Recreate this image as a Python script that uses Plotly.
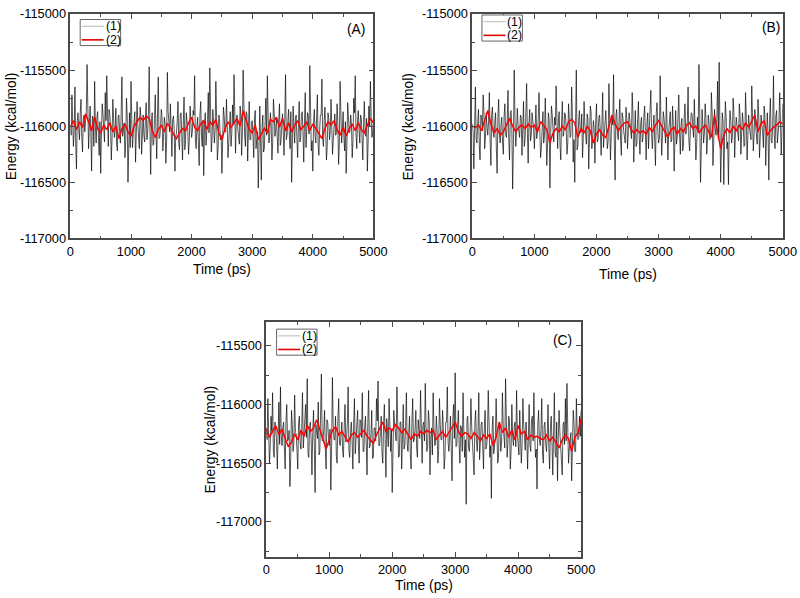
import plotly.graph_objects as go

# ---------------- data ----------------
time_raw = list(range(0, 5001, 25))             # gray series, main samples (ps)
time_mid = [t + 12.5 for t in time_raw[:-1]]     # gray series, in-between samples (ps)
time_avg = list(range(0, 5001, 50))             # red series samples (ps)

energy_raw_A = [
    -116000, -115720, -116180, -115650, -116380, -115880, -116120, -115760, -116230, -115900,
    -115980, -115450, -116200, -115820, -116400, -115930, -115600, -116150, -115870, -116260,
    -116420, -115800, -116050, -115700, -115550, -116180, -115890, -116300, -115760, -116100,
    -115840, -116220, -115900, -116150, -115560, -116050, -116280, -115750, -116500, -115880,
    -115600, -116190, -115940, -116320, -115780, -116080, -115830, -116250, -115900, -116140,
    -115790, -116050, -115470, -116430, -115880, -116160, -115720, -116290, -115560, -116100,
    -115850, -116220, -115920, -116330, -115520, -116050, -115800, -116270, -115910, -116400,
    -116060, -115780, -116210, -115880, -116300, -115740, -116130, -115950, -116250, -115820,
    -116100, -115860, -115550, -116200, -115920, -116350, -115780, -116180, -116440, -115880,
    -116070, -115700, -115480, -116230, -115850, -116150, -115600, -116300, -115900, -116120,
    -116420, -115830, -116050, -115760, -116280, -115920, -116180, -115810, -115540, -116240,
    -115900, -116150, -115820, -116260, -115500, -116080, -115870, -116310, -115780, -116120,
    -115950, -116280, -115860, -116050, -116550, -115820, -116480, -115900, -116200, -115750,
    -115550, -116150, -115880, -116300, -115760, -116090, -115930, -116240, -115800, -116130,
    -115890, -116260, -115540, -116080, -115850, -116200, -116500, -115820, -116150, -115900,
    -116280, -115780, -116100, -115870, -116320, -115700, -116050, -115910, -115460, -116220,
    -116400, -115850, -116150, -115720, -116260, -115900, -115580, -116180, -115830, -116300,
    -115880, -116120, -115760, -116250, -115920, -116080, -115800, -116340, -115600, -116150,
    -115870, -116220, -116420, -115790, -116060, -115900, -116280, -115750, -115550, -116200,
    -115860, -116150, -115930, -116300, -115780, -116090, -116400, -115820, -115600, -116100,
    -115950,
]
energy_mid_A = [
    -116080, -115900, -116030, -116150, -115960, -116020, -115880, -116090, -115940, -116050,
    -115870, -116120, -115990, -116060, -115910, -116180, -116000, -115920, -116100, -115960,
    -116030, -115890, -116140, -115950, -116070, -115850, -116010, -116110, -115930, -116040,
    -116160, -115920, -116050, -115880, -116090, -115970, -116130, -115900, -116020, -116190,
    -115940, -116060, -115870, -116100, -115990, -116200, -115910, -116030, -116080, -115950,
    -116120, -115880, -116040, -115960, -116170, -115930, -116060, -115890, -116110, -116000,
    -115920, -116090, -115980, -116140, -115870, -116050, -116180, -115940, -116030, -116100,
    -115960, -116150, -115900, -116070, -115990, -116210, -115880, -116040, -116120, -115930,
    -116050, -115900, -116130, -116000, -116160, -115890, -116080, -115950, -116020, -116170,
    -115940, -116060, -115870, -116110, -115980, -116040, -115920, -116190, -115960, -116080,
    -116130, -115910, -116050, -115980, -116150, -115870, -116070, -115990, -116100, -115940,
    -116020, -116160, -115900, -116060, -115950, -116180, -115890, -116040, -116120, -115970,
    -116090, -115930, -116200, -116050, -115920, -116140, -116010, -116230, -115960, -116080,
    -115900, -116100, -115970, -116150, -115880, -116030, -116090, -115940, -116170, -115990,
    -116050, -115910, -116120, -115960, -116080, -115870, -116160, -116000, -115930, -116110,
    -115980, -116140, -115900, -116050, -115960, -116190, -115880, -116070, -116010, -116130,
    -115950, -116090, -115920, -116170, -116040, -115900, -116110, -115960, -116060, -116180,
    -115930, -116050, -115990, -116130, -115890, -116070, -115970, -116160, -115940, -116020,
    -116100, -115960, -116150, -115910, -116040, -115990, -116120, -115880, -116070, -115950,
    -116030, -115900, -116110, -115970, -116060, -115930, -116140, -116000, -115920, -116050,
]
energy_avg_A = [
    -116000, -115950, -116030, -115960, -116010, -115890, -115960, -116040, -115920, -116020,
    -116060, -115990, -116030, -115970, -116050, -116000, -116110, -116020, -115980, -116050,
    -116090, -116000, -115960, -115920, -115950, -115910, -115930, -116040, -116100, -116030,
    -115990, -116050, -115980, -116010, -116070, -116110, -116060, -116020, -116040, -115970,
    -115920, -116010, -116040, -115980, -115950, -116030, -115960, -115990, -115940, -116060,
    -116120, -116020, -115960, -116010, -115970, -115930, -116000, -115860, -115950, -116030,
    -116060, -115990, -116120, -116070, -116020, -116060, -115940, -115960, -115920, -116010,
    -115930, -116040, -115970, -116050, -115990, -115950, -116030, -116000, -115960, -116040,
    -115980, -116020, -116060, -116110, -116020, -115960, -115990, -115950, -116030, -116080,
    -116010, -116090, -116020, -115980, -116040, -115970, -116030, -116060, -115990, -115930,
    -115970,
]

energy_raw_B = [
    -115980, -116380, -115650, -116150, -115850, -116300, -115920, -115720, -116200, -115880,
    -116080, -115700, -116350, -115830, -116100, -115880, -116420, -115760, -116150, -115920,
    -116250, -115800, -116100, -115680, -116300, -115860, -116560, -115500, -116180, -115840,
    -116050, -115900, -116260, -115780, -116120, -115620, -116330, -115850, -116080, -115930,
    -116200, -115810, -116050, -115700, -116280, -115900, -116150, -115750, -116350, -115880,
    -116550, -115820, -116120, -115920, -115640, -116200, -115870, -116300, -115780, -116060,
    -115900, -116250, -115800, -116100, -115650, -116320, -116500, -115500, -116180, -115860,
    -116050, -116280, -115780, -116150, -115890, -116380, -115820, -116200, -115950, -116330,
    -115800, -116120, -115900, -116260, -115700, -116080, -115860, -116200, -115620, -116300,
    -115900, -115540, -116480, -115850, -116120, -115760, -116260, -115920, -116080, -115830,
    -116200, -115880, -116050, -115700, -116320, -115860, -116150, -115780, -116250, -115920,
    -116100, -115820, -116300, -115880, -116050, -115680, -116200, -115900, -116350, -115790,
    -116150, -115550, -116260, -115870, -116080, -115740, -116300, -115900, -116140, -115820,
    -116400, -115860, -116100, -115720, -116250, -115930, -116180, -115800, -116050, -115650,
    -116220, -115880, -116080, -115760, -116300, -115920, -115450, -116500, -115850, -116150,
    -115800, -116250, -115900, -116120, -115700, -116350, -115850, -116080, -115600, -115430,
    -116500, -115880, -116520, -115780, -116200, -116520, -115860, -116150, -115750, -116280,
    -115920, -116100, -115800, -116250, -115880, -116180, -115700, -116300, -115900, -116050,
    -115640, -116220, -115850, -116120, -115760, -116280, -115900, -116050, -115820, -116350,
    -115880, -116480, -115750, -116150, -115550, -116200, -115860, -116080, -115700, -116250,
    -115800,
]
energy_mid_B = [
    -116050, -115930, -116110, -115980, -116160, -115900, -116040, -115870, -116090, -116010,
    -115950, -116130, -115890, -116060, -115970, -116200, -115920, -116080, -115990, -116140,
    -115910, -116070, -115960, -116120, -115880, -116030, -116170, -115940, -116050, -115990,
    -116100, -115920, -116040, -116180, -115900, -116060, -115970, -116130, -115880, -116020,
    -115960, -116110, -115930, -116050, -116190, -115870, -116080, -116000, -116150, -115940,
    -116070, -115900, -116140, -115990, -116050, -115920, -116170, -115960, -116090, -115880,
    -116030, -116150, -115940, -116080, -115910, -116120, -116000, -116210, -115950, -116060,
    -115890, -116100, -115980, -116160, -115930, -116040, -115870, -116110, -116020, -115960,
    -116140, -115920, -116060, -115970, -116190, -115900, -116050, -116130, -115940, -116080,
    -115990, -116170, -115910, -116070, -115960, -116120, -115880, -116040, -116150, -115930,
    -116060, -115950, -116110, -115890, -116030, -116180, -115940, -116090, -115970, -116140,
    -115920, -116050, -115980, -116200, -115900, -116070, -116010, -116130, -115880, -116040,
    -116110, -115960, -116080, -115930, -116150, -115990, -116050, -115870, -116120, -116000,
    -115940, -116160, -115910, -116060, -115980, -116220, -115920, -116070, -115960, -116130,
    -116020, -115890, -116100, -115950, -116170, -116040, -115900, -116210, -115980, -116060,
    -115930, -116120, -115970, -116080, -115890, -116150, -116020, -115940, -116110, -116000,
    -116180, -115960, -116090, -115920, -116140, -116030, -115950, -116100, -115880, -116060,
    -115990, -116130, -115910, -116050, -115970, -116170, -115930, -116080, -116010, -116120,
    -115950, -116070, -116000, -116160, -115900, -116040, -115980, -116190, -115920, -116090,
    -116060, -115940, -116130, -115990, -116080, -115910, -116150, -115970, -116040, -116020,
]
energy_avg_B = [
    -116000, -116010, -115990, -116040, -115950, -115860, -115980, -116060, -116020, -116080,
    -116050, -115990, -115930, -116000, -116050, -116010, -115990, -116020, -115980, -116010,
    -115990, -116050, -115960, -115990, -116030, -116150, -116060, -116020, -116050, -116000,
    -116030, -115960, -115940, -115970, -116100, -116020, -116060, -116000, -116040, -116150,
    -116070, -116030, -116080, -116100, -116000, -115900, -115980, -116040, -116000, -115970,
    -115960, -116020, -116060, -116030, -116060, -116040, -116070, -116010, -116050, -115990,
    -115950, -116000, -116040, -116100, -116030, -116010, -116070, -116020, -116050, -115990,
    -115970, -116020, -116000, -116060, -116020, -115990, -116040, -116100, -115900, -116050,
    -116200, -116080, -116020, -116060, -116000, -116040, -115990, -116030, -115970, -116010,
    -115950, -115900, -116050, -115980, -115950, -116080, -116040, -116010, -115990, -115960,
    -115980,
]

energy_raw_C = [
    -116200, -115950, -116500, -116100, -115900, -116450, -116200, -116550, -115980, -115850,
    -116350, -116150, -116550, -116000, -116300, -116700, -116050, -116400, -115920, -116250,
    -116550, -116100, -116380, -115900, -116250, -116000, -115780, -116450, -116150, -116600,
    -116050, -116750, -116250, -115980, -116400, -115740, -116300, -116050, -116550, -116150,
    -116350, -116730, -115770, -116300, -116100, -116500, -115950, -116350, -116150, -116450,
    -116000, -116300, -115850, -116450, -116150, -116550, -115950, -116280, -116050, -116500,
    -116150, -115900, -116400, -116100, -116600, -115880, -116350, -116050, -116450, -116200,
    -115950, -115800, -116350, -116100, -116500, -116000, -116620, -116250, -115950, -116400,
    -116750, -116050, -116300, -115850, -116450, -116150, -116550, -116000, -116350, -115900,
    -116400, -116100, -116550, -115950, -116300, -116050, -116450, -116200, -115880, -116500,
    -116150, -115820, -116400, -116050, -116600, -116200, -115900, -116350, -116100, -116500,
    -115950, -116300, -116050, -116550, -116150, -115850, -116400, -116100, -116650, -116000,
    -115730, -116350, -116050, -116500, -116200, -115900, -116450, -116850, -116100, -116400,
    -115950, -116300, -116600, -116050, -116400, -115900, -116300, -116150, -116550, -116050,
    -116350, -115880, -116450, -116800, -116100, -116300, -115950, -116500, -116150, -116400,
    -115900, -116250, -115780, -116450, -116100, -116550, -116000, -116350, -116150, -115880,
    -116400, -116050, -116500, -115950, -116300, -116150, -116550, -116000, -116400, -116100,
    -115900, -116450, -116720, -116050, -116350, -115950, -116500, -116150, -116400, -116000,
    -116550, -116100, -116600, -115900, -116450, -116650, -116050, -116400, -116600, -116150,
    -115950, -115820, -116500, -116250, -116650, -116050, -116400, -115950, -116300, -116100,
    -116050,
]
energy_mid_C = [
    -116300, -116180, -116360, -116230, -116400, -116150, -116290, -116120, -116340, -116260,
    -116200, -116380, -116140, -116310, -116220, -116450, -116170, -116330, -116240, -116390,
    -116160, -116320, -116210, -116370, -116130, -116280, -116420, -116190, -116300, -116240,
    -116350, -116170, -116290, -116430, -116150, -116310, -116220, -116380, -116130, -116270,
    -116210, -116360, -116180, -116300, -116440, -116120, -116330, -116250, -116400, -116190,
    -116320, -116150, -116390, -116240, -116300, -116170, -116420, -116210, -116340, -116130,
    -116280, -116400, -116190, -116330, -116160, -116370, -116250, -116460, -116200, -116310,
    -116140, -116350, -116230, -116410, -116180, -116290, -116120, -116360, -116270, -116210,
    -116390, -116170, -116310, -116220, -116440, -116150, -116300, -116380, -116190, -116330,
    -116240, -116420, -116160, -116320, -116210, -116370, -116130, -116290, -116400, -116180,
    -116310, -116200, -116360, -116140, -116280, -116430, -116190, -116340, -116220, -116390,
    -116170, -116300, -116230, -116450, -116150, -116320, -116260, -116380, -116130, -116290,
    -116360, -116210, -116330, -116180, -116400, -116240, -116300, -116120, -116370, -116250,
    -116190, -116410, -116160, -116310, -116230, -116470, -116170, -116320, -116210, -116380,
    -116270, -116140, -116350, -116200, -116420, -116290, -116150, -116460, -116230, -116310,
    -116180, -116370, -116220, -116330, -116140, -116400, -116270, -116190, -116360, -116250,
    -116430, -116210, -116340, -116170, -116390, -116280, -116200, -116350, -116130, -116310,
    -116240, -116380, -116160, -116300, -116220, -116420, -116180, -116330, -116260, -116370,
    -116200, -116320, -116250, -116410, -116150, -116290, -116230, -116440, -116170, -116340,
    -116310, -116190, -116380, -116240, -116330, -116160, -116400, -116220, -116290, -116270,
]
energy_avg_C = [
    -116200, -116280, -116230, -116180, -116260, -116210, -116290, -116360, -116320, -116250,
    -116300, -116220, -116270, -116180, -116230, -116200, -116130, -116210, -116280, -116380,
    -116300, -116220, -116190, -116260, -116230, -116280, -116320, -116260, -116240, -116280,
    -116250, -116220, -116270, -116300, -116330, -116260, -116200, -116150, -116230, -116200,
    -116220, -116170, -116200, -116240, -116210, -116260, -116300, -116250, -116270, -116230,
    -116250, -116220, -116240, -116220, -116300, -116260, -116230, -116280, -116240, -116190,
    -116150, -116230, -116270, -116240, -116250, -116290, -116240, -116270, -116310, -116260,
    -116290, -116250, -116350, -116280, -116150, -116240, -116200, -116280, -116220, -116300,
    -116180, -116250, -116230, -116300, -116260, -116280, -116270, -116290, -116300, -116260,
    -116310, -116280, -116330, -116370, -116300, -116260, -116290, -116400, -116280, -116240,
    -116120,
]

panel_labels = ["(A)", "(B)", "(C)"]
series_names = ["(1)", "(2)"]
x_title = "Time (ps)"
y_title = "Energy (kcal/mol)"
x_ticks = [0, 1000, 2000, 3000, 4000, 5000]

# ---------------- figure ----------------
W, H = 800, 598
FONT = "Liberation Sans, Arial, sans-serif"
AXC = "#4a4a4a"
FS = 1.025  # font scale

# Positions below are given in the target picture's pixels; the photograph of the
# page maps figure pixel (x, y) to about (3 + 0.979 x, 8 + 0.973 y), so invert that.
CX0, CSX, CY0, CSY = 3.0, 0.979, 8.0, 0.973


def fx(px):
    return ((px - CX0) / CSX) / W


def fy(py):
    return 1 - ((py - CY0) / CSY) / H


def merge(t1, v1, t2, v2):
    pts = sorted(list(zip(t1, v1)) + list(zip(t2, v2)))
    return [p[0] for p in pts], [p[1] for p in pts]


panels = [
    dict(raw=energy_raw_A, mid=energy_mid_A, avg=energy_avg_A,
         box=(69.5, 14, 373, 238), yr=[-117000, -115000],
         leg=(79.3, 19.5), lab=(356, 29), ttl_y=268, ytx=10),
    dict(raw=energy_raw_B, mid=energy_mid_B, avg=energy_avg_B,
         box=(472, 14, 783, 238), yr=[-117000, -115000],
         leg=(481.7, 15), lab=(771, 27), ttl_y=273, ytx=408),
    dict(raw=energy_raw_C, mid=energy_mid_C, avg=energy_avg_C,
         box=(265.7, 321.7, 581, 556), yr=[-117300, -115300],
         leg=(276, 328.5), lab=(562, 339), ttl_y=584, ytx=209),
]

fig = go.Figure()
annotations, shapes = [], []
layout = dict(
    width=W, height=H, margin=dict(l=0, r=0, t=0, b=0),
    paper_bgcolor="white", plot_bgcolor="white",
    font=dict(family=FONT, size=12, color="black"),
    showlegend=False,
)

for i, p in enumerate(panels):
    n = "" if i == 0 else str(i + 1)
    xa, ya = "x" + n, "y" + n
    tt, vv = merge(time_raw, p["raw"], time_mid, p["mid"])
    fig.add_trace(go.Scatter(x=tt, y=vv, mode="lines", name=series_names[0],
                             line=dict(color="rgba(0,0,0,0.66)", width=1.0),
                             xaxis=xa, yaxis=ya, hoverinfo="skip"))
    fig.add_trace(go.Scatter(x=time_avg, y=p["avg"], mode="lines", name=series_names[1],
                             line=dict(color="#ff0000", width=1.5),
                             xaxis=xa, yaxis=ya, hoverinfo="skip"))
    x0, y0, x1, y1 = p["box"]
    common = dict(showline=True, linecolor=AXC, linewidth=1.6, mirror="ticks",
                  ticks="inside", ticklen=5, tickwidth=1.2, tickcolor=AXC,
                  showgrid=False, zeroline=False, ticklabeloverflow="allow",
                  tickfont=dict(family=FONT, size=12.5 * FS, color="black"))
    layout["xaxis" + n] = dict(common, domain=[fx(x0), fx(x1)], range=[0, 5000], anchor=ya,
                               tickvals=x_ticks, ticktext=[str(v) for v in x_ticks],
                               minor=dict(dtick=500, tick0=0, ticks="inside", ticklen=3,
                                          tickcolor=AXC, tickwidth=1.2))
    yt = [v for v in range(-117000, -114999, 500) if p["yr"][0] <= v <= p["yr"][1]]
    layout["yaxis" + n] = dict(common, domain=[fy(y1), fy(y0)], range=p["yr"], anchor=xa,
                               tickvals=yt, ticktext=[str(v) for v in yt],
                               minor=dict(dtick=250, tick0=-117000, ticks="inside", ticklen=3,
                                          tickcolor=AXC, tickwidth=1.2))

    # compact legend box in the style of the original
    lx, ly = p["leg"]
    lw, lh = 40.5, 26
    shapes.append(dict(type="rect", xref="paper", yref="paper",
                       x0=fx(lx), x1=fx(lx + lw), y0=fy(ly + lh), y1=fy(ly),
                       line=dict(color="#666666", width=1), fillcolor="white", layer="above"))
    for k, (col, wid) in enumerate([("#b8b8b8", 1), ("#e00000", 1.6)]):
        yy = ly + 6.7 + k * 13.6
        shapes.append(dict(type="line", xref="paper", yref="paper",
                           x0=fx(lx + 1.5), x1=fx(lx + 23.5), y0=fy(yy), y1=fy(yy),
                           line=dict(color=col, width=wid), layer="above"))
        annotations.append(dict(text=series_names[k], x=fx(lx + 23.5), y=fy(yy),
                                xref="paper", yref="paper", showarrow=False,
                                xanchor="left", yanchor="middle",
                                font=dict(family=FONT, size=12 * FS, color="black")))

    annotations.append(dict(text=panel_labels[i], x=fx(p["lab"][0]), y=fy(p["lab"][1]),
                            xref="paper", yref="paper", showarrow=False,
                            xanchor="center", yanchor="middle",
                            font=dict(family=FONT, size=13.5 * FS, color="black")))
    annotations.append(dict(text=x_title, x=fx((x0 + x1) / 2), y=fy(p["ttl_y"]),
                            xref="paper", yref="paper", showarrow=False,
                            xanchor="center", yanchor="middle",
                            font=dict(family=FONT, size=13.5 * FS, color="black")))
    annotations.append(dict(text=y_title, x=fx(p["ytx"]), y=fy((y0 + y1) / 2), textangle=-90,
                            xref="paper", yref="paper", showarrow=False,
                            xanchor="center", yanchor="middle",
                            font=dict(family=FONT, size=13.5 * FS, color="black")))

layout["annotations"] = annotations
layout["shapes"] = shapes
fig.update_layout(**layout)
fig.write_html("out.html", config={"displayModeBar": False},
               post_script="document.body.style.margin='0';document.body.style.overflow='hidden';")
